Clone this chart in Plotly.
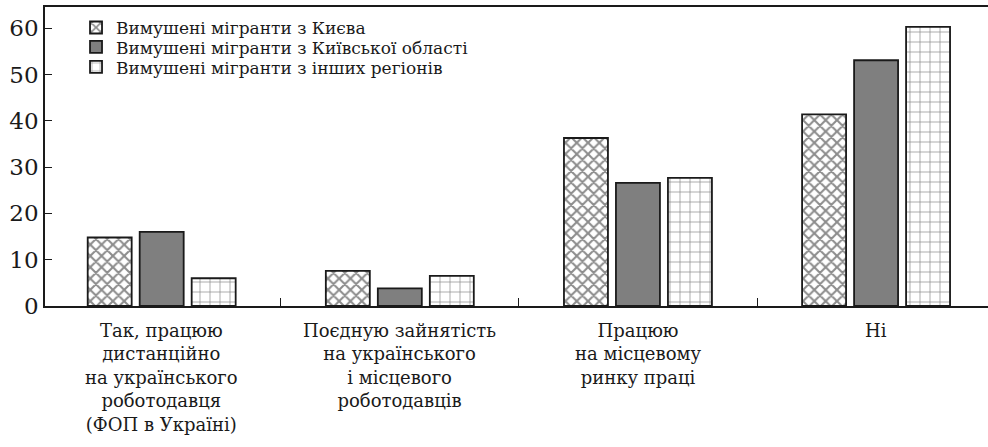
import plotly.graph_objects as go

categories = [
    "Так, працюю дистанційно на українського роботодавця (ФОП в Україні)",
    "Поєдную зайнятість на українського і місцевого роботодавців",
    "Працюю на місцевому ринку праці",
    "Ні",
]
category_label_lines = [
    ["Так, працюю", "дистанційно", "на українського", "роботодавця", "(ФОП в Україні)"],
    ["Поєдную зайнятість", "на українського", "і місцевого", "роботодавців"],
    ["Працюю", "на місцевому", "ринку праці"],
    ["Ні"],
]
series_names = [
    "Вимушені мігранти з Києва",
    "Вимушені мігранти з Київської області",
    "Вимушені мігранти з інших регіонів",
]
kyiv = [14.8, 7.6, 36.3, 41.4]
oblast = [16.0, 3.8, 26.6, 53.1]
other = [6.0, 6.5, 27.7, 60.3]
y_ticks = [0, 10, 20, 30, 40, 50, 60]

FONT = "DejaVu Serif, Liberation Serif, serif"
INK = "#1a1a1a"

legend_y = [0.930, 0.865, 0.798]

fig = go.Figure()
fig.add_trace(go.Bar(
    x=categories, y=kyiv, name=series_names[0], legend="legend",
    marker=dict(color="white", line=dict(color=INK, width=1.8),
                pattern=dict(shape="x", fgcolor=INK, bgcolor="white", size=8, solidity=0.45)),
))
fig.add_trace(go.Bar(
    x=categories, y=oblast, name=series_names[1], legend="legend2",
    marker=dict(color="#7f7f7f", line=dict(color=INK, width=1.8)),
))
fig.add_trace(go.Bar(
    x=categories, y=other, name=series_names[2], legend="legend3",
    marker=dict(color="white", line=dict(color=INK, width=1.8),
                pattern=dict(shape="+", fgcolor=INK, bgcolor="white", size=10, solidity=0.14)),
))

def leg(yv):
    return dict(x=0.0329, y=yv, xanchor="left", yanchor="middle",
                bgcolor="rgba(0,0,0,0)", font=dict(family=FONT, size=17, color=INK),
                itemwidth=30)

# category labels below the axis, one multi-line text per category
for cat, lines in zip(categories, category_label_lines):
    fig.add_annotation(x=cat, xref="x", y=0, yref="paper", yanchor="top",
                       yshift=-12, text="<br>".join(lines), showarrow=False,
                       align="center", font=dict(family=FONT, size=18, color=INK))

fig.update_layout(
    width=988, height=447,
    margin=dict(l=45, r=0, t=7, b=141),
    paper_bgcolor="white", plot_bgcolor="white",
    barmode="group", bargap=0.345, bargroupgap=0.154,
    font=dict(family=FONT, color=INK, size=18),
    showlegend=True,
    legend=leg(legend_y[0]), legend2=leg(legend_y[1]), legend3=leg(legend_y[2]),
    xaxis=dict(range=[-0.49, 3.47], showline=True, linecolor=INK, linewidth=1.5,
               mirror=True, ticks="inside", tickson="boundaries", ticklen=8,
               tickcolor=INK, showgrid=False, automargin=False, showticklabels=False),
    yaxis=dict(range=[0, 64.6], showline=True, linecolor=INK, linewidth=1.5,
               ticks="inside", ticklen=7, tickcolor=INK, tickvals=y_ticks,
               showgrid=False, zeroline=False, automargin=False,
               tickfont=dict(family=FONT, size=23, color=INK)),
)

fig.write_html("out.html", config={"displayModeBar": False},
               post_script="document.body.style.margin='0';")
